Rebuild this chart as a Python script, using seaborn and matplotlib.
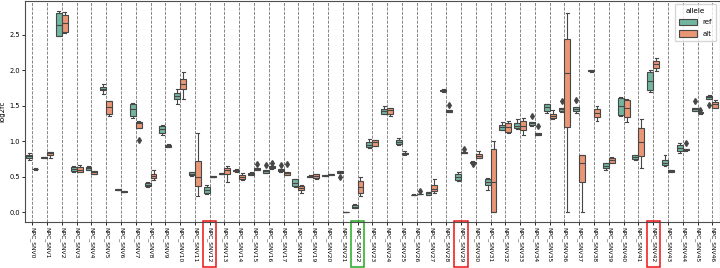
import pandas as pd
import matplotlib
matplotlib.use("Agg")
import matplotlib.pyplot as plt
import matplotlib.transforms as mtransforms
from matplotlib.patches import Rectangle
import seaborn as sns

# categories
snvs = [f"NPC_SNV{i}" for i in range(47)]

# per-SNV replicate log2fc values
ref_vals = [
    [0.74, 0.77, 0.79, 0.81, 0.83],
    [0.765, 0.77, 0.775, 0.78, 0.78],
    [2.48, 2.48, 2.64, 2.80, 2.84],
    [0.57, 0.58, 0.61, 0.63, 0.65],
    [0.59, 0.60, 0.62, 0.64, 0.65],
    [1.66, 1.72, 1.74, 1.76, 1.80],
    [0.31, 0.315, 0.32, 0.325, 0.33],
    [1.33, 1.36, 1.45, 1.52, 1.54],
    [0.36, 0.37, 0.39, 0.41, 0.42],
    [1.09, 1.12, 1.17, 1.21, 1.23],
    [1.52, 1.59, 1.64, 1.68, 1.73],
    [0.51, 0.52, 0.54, 0.56, 0.57],
    [0.257, 0.275, 0.31, 0.355, 0.383],
    [0.535, 0.54, 0.545, 0.55, 0.555],
    [0.57, 0.575, 0.585, 0.60, 0.605],
    [0.52, 0.525, 0.54, 0.555, 0.565],
    [0.55, 0.556, 0.575, 0.59, 0.66],
    [0.565, 0.578, 0.59, 0.605, 0.66],
    [0.36, 0.369, 0.415, 0.463, 0.47],
    [0.49, 0.495, 0.50, 0.505, 0.52],
    [0.505, 0.51, 0.515, 0.52, 0.52],
    [0.50, 0.55, 0.56, 0.575, 0.585],
    [0.06, 0.065, 0.08, 0.10, 0.117],
    [0.90, 0.913, 0.95, 0.983, 1.025],
    [1.38, 1.39, 1.43, 1.45, 1.49],
    [0.95, 0.955, 0.99, 1.015, 1.048],
    [0.24, 0.242, 0.245, 0.247, 0.25],
    [0.24, 0.245, 0.265, 0.285, 0.29],
    [1.70, 1.705, 1.715, 1.725, 1.73],
    [0.44, 0.454, 0.50, 0.538, 0.56],
    [0.68, 0.70, 0.705, 0.71, 0.715],
    [0.32, 0.383, 0.425, 0.468, 0.48],
    [1.16, 1.165, 1.20, 1.225, 1.27],
    [1.17, 1.18, 1.21, 1.25, 1.315],
    [1.22, 1.226, 1.25, 1.275, 1.36],
    [1.40, 1.43, 1.48, 1.52, 1.53],
    [1.41, 1.423, 1.45, 1.475, 1.565],
    [1.395, 1.427, 1.46, 1.48, 1.575],
    [1.98, 1.985, 1.99, 2.0, 2.005],
    [0.60, 0.626, 0.655, 0.688, 0.69],
    [1.357, 1.376, 1.49, 1.615, 1.62],
    [0.74, 0.744, 0.775, 0.80, 0.805],
    [1.69, 1.728, 1.848, 1.975, 2.008],
    [0.65, 0.664, 0.70, 0.735, 0.805],
    [0.83, 0.86, 0.90, 0.94, 0.978],
    [1.42, 1.427, 1.45, 1.47, 1.56],
    [1.507, 1.60, 1.62, 1.64, 1.645],
]
alt_vals = [
    [0.60, 0.605, 0.61, 0.615, 0.62],
    [0.77, 0.81, 0.83, 0.845, 0.85],
    [2.53, 2.54, 2.66, 2.78, 2.82],
    [0.56, 0.57, 0.60, 0.63, 0.66],
    [0.54, 0.545, 0.565, 0.58, 0.585],
    [1.35, 1.39, 1.48, 1.56, 1.57],
    [0.28, 0.285, 0.29, 0.30, 0.305],
    [1.02, 1.18, 1.25, 1.27, 1.29],
    [0.46, 0.48, 0.51, 0.54, 0.59],
    [0.92, 0.925, 0.93, 0.945, 0.955],
    [1.60, 1.73, 1.80, 1.88, 1.98],
    [0.225, 0.365, 0.50, 0.716, 1.118],
    [0.49, 0.495, 0.50, 0.505, 0.51],
    [0.43, 0.534, 0.60, 0.626, 0.654],
    [0.46, 0.465, 0.50, 0.53, 0.55],
    [0.59, 0.60, 0.61, 0.625, 0.674],
    [0.615, 0.625, 0.635, 0.645, 0.70],
    [0.525, 0.53, 0.55, 0.57, 0.674],
    [0.275, 0.313, 0.34, 0.369, 0.38],
    [0.47, 0.478, 0.51, 0.534, 0.54],
    [0.525, 0.53, 0.535, 0.54, 0.545],
    [0.0, 0.0, 0.0, 0.0, 0.0],
    [0.229, 0.275, 0.36, 0.444, 0.50],
    [0.93, 0.935, 0.985, 1.015, 1.02],
    [1.36, 1.39, 1.44, 1.465, 1.47],
    [0.80, 0.815, 0.83, 0.84, 0.865],
    [0.25, 0.252, 0.255, 0.26, 0.30],
    [0.275, 0.30, 0.33, 0.388, 0.468],
    [1.41, 1.415, 1.43, 1.445, 1.51],
    [0.83, 0.835, 0.84, 0.845, 0.885],
    [0.76, 0.77, 0.795, 0.82, 0.865],
    [0.0, 0.0, 0.425, 0.885, 1.01],
    [1.12, 1.125, 1.20, 1.25, 1.28],
    [1.086, 1.165, 1.22, 1.278, 1.334],
    [1.085, 1.09, 1.10, 1.115, 1.215],
    [1.32, 1.33, 1.35, 1.38, 1.446],
    [0.0, 1.194, 1.966, 2.444, 2.80],
    [0.0, 0.43, 0.69, 0.81, 0.81],
    [1.287, 1.343, 1.40, 1.46, 1.49],
    [0.69, 0.70, 0.73, 0.758, 0.78],
    [1.264, 1.343, 1.47, 1.577, 1.59],
    [0.618, 0.795, 0.99, 1.184, 1.31],
    [1.985, 2.03, 2.083, 2.13, 2.177],
    [0.56, 0.565, 0.58, 0.594, 0.60],
    [0.86, 0.87, 0.88, 0.89, 0.98],
    [1.39, 1.395, 1.40, 1.405, 1.446],
    [1.47, 1.475, 1.52, 1.553, 1.587],
]

red_marked = ["NPC_SNV12", "NPC_SNV29", "NPC_SNV42"]
green_marked = ["NPC_SNV22"]

# long-form table
rows = []
for name, r, a in zip(snvs, ref_vals, alt_vals):
    rows += [(name, "ref", v) for v in r]
    rows += [(name, "alt", v) for v in a]
df = pd.DataFrame(rows, columns=["snv", "allele", "log2fc"])

fig = plt.figure(figsize=(7.2, 2.68), dpi=100)
ax = fig.add_axes([0.0346, 0.1705, 0.965, 0.8276])

sns.boxplot(data=df, x="snv", y="log2fc", hue="allele", order=snvs,
            hue_order=["ref", "alt"], palette="Set2", width=0.8,
            linewidth=0.8, linecolor="0.28",
            flierprops=dict(marker="d", markerfacecolor="0.28",
                            markeredgecolor="0.28", markersize=3),
            ax=ax)

ax.set_ylim(-0.142, 2.982)
ax.grid(axis="x", linestyle="--", color="0.45", linewidth=0.6)
ax.set_axisbelow(True)
ax.set_xlabel("")
ax.set_ylabel("log2fc", fontsize=5, labelpad=3)
ax.tick_params(axis="both", labelsize=4.3, length=2, width=0.6, pad=1.5)
ax.tick_params(axis="y", labelsize=4.8)
ax.tick_params(axis="x", labelrotation=-90)
for s in ax.spines.values():
    s.set_linewidth(0.8)
    s.set_color("0.3")

# highlight boxes round some tick labels
trans = mtransforms.blended_transform_factory(ax.transData, ax.transAxes)
for names, col in [(red_marked, "#ee1111"), (green_marked, "#22aa22")]:
    for lab in names:
        i = snvs.index(lab)
        ax.add_patch(Rectangle((i - 0.45, -0.20), 0.9, 0.205, transform=trans,
                               fill=False, edgecolor=col, linewidth=1.1,
                               clip_on=False))

sns.move_legend(ax, "upper right", title="allele", fontsize=5,
                title_fontsize=5.2, handlelength=2.6, handleheight=1.0,
                borderpad=0.6, labelspacing=0.7)

fig.savefig("out.png", dpi=100)
